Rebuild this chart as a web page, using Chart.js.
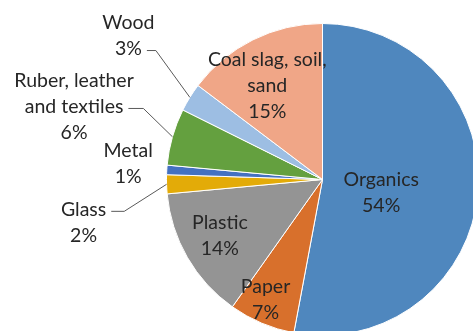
<!DOCTYPE html>
<html>
<head>
<meta charset="utf-8">
<script src="https://cdn.jsdelivr.net/npm/chart.js@4/dist/chart.umd.min.js"></script>
<style>
  html, body { margin: 0; padding: 0; background: #fff; overflow: hidden; }
  #wrap { position: absolute; left: 0; top: 0; width: 480px; height: 340px; }
</style>
</head>
<body>
<div id="wrap"><canvas id="waste" width="480" height="340"></canvas></div>
<script>
  // waste composition, percent of total
  const categories = ['Organics', 'Paper', 'Plastic', 'Glass', 'Metal',
    ['Ruber, leather', 'and textiles'], 'Wood', ['Coal slag, soil,', 'sand']];
  const shares = [54, 7, 14, 2, 1, 6, 3, 15];
  const colors = ['#4f87be', '#d8702c', '#949494', '#e3ab08', '#4471c1', '#64a03f', '#9dbee3', '#f0a687'];

  // where each label sits: r = fraction of the radius, shift = degrees off the slice middle
  // tail = length of the flat part of the leader line, row = text row the leader starts from
  const placement = [
    { r: 0.385, shift: 7 },
    { r: 0.85, shift: 2.5 },
    { r: 0.75, shift: 1.3 },
    { r: 1.556, shift: -8.4, row: 0, tail: 13 },
    { r: 1.25, shift: 1.1 },
    { r: 1.66, shift: 0.5, row: 1, tail: 15 },
    { r: 1.549, shift: 4.8, row: 1, tail: 9 },
    { r: 0.696, shift: -4.1 }
  ];

  const FONT = '19.5px Lato, "Open Sans", sans-serif';
  const LINE_H = 26;

  const sliceLabels = {
    id: 'sliceLabels',
    afterDatasetsDraw(chart) {
      const ctx = chart.ctx;
      const arcs = chart.getDatasetMeta(0).data;
      ctx.save();
      ctx.font = FONT;
      ctx.textAlign = 'center';
      ctx.textBaseline = 'middle';
      arcs.forEach((arc, i) => {
        const p = arc.getProps(['x', 'y', 'startAngle', 'endAngle', 'outerRadius'], true);
        const place = placement[i];
        const mid = (p.startAngle + p.endAngle) / 2;
        const a = mid + place.shift * Math.PI / 180;
        const cx = p.x + Math.cos(a) * p.outerRadius * place.r;
        const cy = p.y + Math.sin(a) * p.outerRadius * place.r;
        const name = categories[i];
        const rows = (Array.isArray(name) ? name : [name]).concat(shares[i] + '%');
        const top = cy - (rows.length - 1) * LINE_H / 2;

        ctx.fillStyle = '#262626';
        rows.forEach((t, k) => ctx.fillText(t, cx, top + k * LINE_H));

        if (place.row !== undefined) {
          const t = rows[place.row];
          const y = top + place.row * LINE_H + 2;
          const x0 = cx + ctx.measureText(t).width / 2 + 5;
          const ex = p.x + Math.cos(mid) * p.outerRadius;
          const ey = p.y + Math.sin(mid) * p.outerRadius;
          ctx.strokeStyle = '#595959';
          ctx.lineWidth = 1;
          ctx.beginPath();
          ctx.moveTo(x0, y);
          ctx.lineTo(x0 + place.tail, y);
          ctx.lineTo(ex, ey);
          ctx.stroke();
        }
      });
      ctx.restore();
    }
  };

  new Chart(document.getElementById('waste'), {
    type: 'pie',
    data: {
      labels: categories,
      datasets: [{
        data: shares,
        backgroundColor: colors,
        borderColor: '#ffffff',
        borderWidth: 1
      }]
    },
    options: {
      responsive: false,
      animation: false,
      layout: { padding: { left: 166, top: 23, right: 1, bottom: 4 } },
      plugins: {
        legend: { display: false },
        tooltip: { enabled: false }
      }
    },
    plugins: [sliceLabels]
  });
</script>
</body>
</html>
